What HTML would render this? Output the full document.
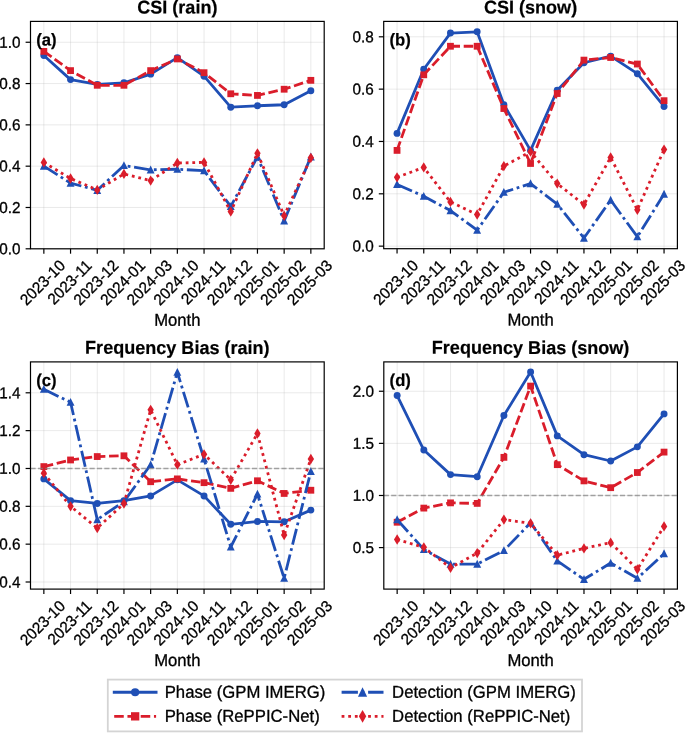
<!DOCTYPE html>
<html lang="en"><head><meta charset="utf-8"><title>CSI and Frequency Bias by Month</title>
<style>html,body{margin:0;padding:0;background:#fff}svg{display:block}text{font-family:"Liberation Sans", Arial, Helvetica, sans-serif;text-rendering:geometricPrecision;stroke:#000;stroke-linejoin:round}</style>
</head><body>
<svg width="685" height="733" viewBox="0 0 685 733" font-family='"Liberation Sans", Arial, Helvetica, sans-serif'>
<rect width="685" height="733" fill="#fff"/>
<clipPath id="clipa"><rect x="30.5" y="21.4" width="293.70" height="227.40"/></clipPath>
<g stroke="#b0b0b0" stroke-opacity="0.27" stroke-width="1.0" fill="none">
<path d="M43.85 21.4V248.8"/>
<path d="M70.55 21.4V248.8"/>
<path d="M97.25 21.4V248.8"/>
<path d="M123.95 21.4V248.8"/>
<path d="M150.65 21.4V248.8"/>
<path d="M177.35 21.4V248.8"/>
<path d="M204.05 21.4V248.8"/>
<path d="M230.75 21.4V248.8"/>
<path d="M257.45 21.4V248.8"/>
<path d="M284.15 21.4V248.8"/>
<path d="M310.85 21.4V248.8"/>
<path d="M30.5 248.80H324.2"/>
<path d="M30.5 207.49H324.2"/>
<path d="M30.5 166.18H324.2"/>
<path d="M30.5 124.87H324.2"/>
<path d="M30.5 83.56H324.2"/>
<path d="M30.5 42.25H324.2"/>
</g>
<g clip-path="url(#clipa)">
<path d="M43.85 55.54L70.55 79.61L97.25 84.47L123.95 82.82L150.65 74.14L177.35 57.60L204.05 76.21L230.75 107.21L257.45 105.76L284.15 104.73L310.85 90.67" stroke="#1f4fb5" stroke-width="2.8" fill="none" stroke-linejoin="round"/>
<circle cx="43.85" cy="55.54" r="3.47" fill="#1f4fb5"/>
<circle cx="70.55" cy="79.61" r="3.47" fill="#1f4fb5"/>
<circle cx="97.25" cy="84.47" r="3.47" fill="#1f4fb5"/>
<circle cx="123.95" cy="82.82" r="3.47" fill="#1f4fb5"/>
<circle cx="150.65" cy="74.14" r="3.47" fill="#1f4fb5"/>
<circle cx="177.35" cy="57.60" r="3.47" fill="#1f4fb5"/>
<circle cx="204.05" cy="76.21" r="3.47" fill="#1f4fb5"/>
<circle cx="230.75" cy="107.21" r="3.47" fill="#1f4fb5"/>
<circle cx="257.45" cy="105.76" r="3.47" fill="#1f4fb5"/>
<circle cx="284.15" cy="104.73" r="3.47" fill="#1f4fb5"/>
<circle cx="310.85" cy="90.67" r="3.47" fill="#1f4fb5"/>
<path d="M43.85 51.40L70.55 70.62L97.25 85.29L123.95 85.29L150.65 70.62L177.35 58.94L204.05 72.69L230.75 93.78L257.45 95.43L284.15 89.23L310.85 80.34" stroke="#da1d2b" stroke-width="2.8" fill="none" stroke-linejoin="round" stroke-dasharray="9.55 3.70"/>
<rect x="40.45" y="48.00" width="6.80" height="6.80" fill="#da1d2b"/>
<rect x="67.15" y="67.22" width="6.80" height="6.80" fill="#da1d2b"/>
<rect x="93.85" y="81.89" width="6.80" height="6.80" fill="#da1d2b"/>
<rect x="120.55" y="81.89" width="6.80" height="6.80" fill="#da1d2b"/>
<rect x="147.25" y="67.22" width="6.80" height="6.80" fill="#da1d2b"/>
<rect x="173.95" y="55.54" width="6.80" height="6.80" fill="#da1d2b"/>
<rect x="200.65" y="69.29" width="6.80" height="6.80" fill="#da1d2b"/>
<rect x="227.35" y="90.38" width="6.80" height="6.80" fill="#da1d2b"/>
<rect x="254.05" y="92.03" width="6.80" height="6.80" fill="#da1d2b"/>
<rect x="280.75" y="85.83" width="6.80" height="6.80" fill="#da1d2b"/>
<rect x="307.45" y="76.94" width="6.80" height="6.80" fill="#da1d2b"/>
<path d="M43.85 166.12L70.55 183.07L97.25 190.30L123.95 165.50L150.65 169.84L177.35 169.22L204.05 170.67L230.75 206.43L257.45 156.82L284.15 220.90L310.85 156.82" stroke="#1f4fb5" stroke-width="2.8" fill="none" stroke-linejoin="round" stroke-dasharray="16.30 3.70 2.80 3.70"/>
<path d="M43.85 161.82L47.80 169.72L39.90 169.72Z" fill="#1f4fb5"/>
<path d="M70.55 178.77L74.50 186.67L66.60 186.67Z" fill="#1f4fb5"/>
<path d="M97.25 186.00L101.20 193.90L93.30 193.90Z" fill="#1f4fb5"/>
<path d="M123.95 161.20L127.90 169.10L120.00 169.10Z" fill="#1f4fb5"/>
<path d="M150.65 165.54L154.60 173.44L146.70 173.44Z" fill="#1f4fb5"/>
<path d="M177.35 164.92L181.30 172.82L173.40 172.82Z" fill="#1f4fb5"/>
<path d="M204.05 166.37L208.00 174.27L200.10 174.27Z" fill="#1f4fb5"/>
<path d="M230.75 202.13L234.70 210.03L226.80 210.03Z" fill="#1f4fb5"/>
<path d="M257.45 152.52L261.40 160.42L253.50 160.42Z" fill="#1f4fb5"/>
<path d="M284.15 216.60L288.10 224.50L280.20 224.50Z" fill="#1f4fb5"/>
<path d="M310.85 152.52L314.80 160.42L306.90 160.42Z" fill="#1f4fb5"/>
<path d="M43.85 162.40L70.55 178.52L97.25 189.89L123.95 173.97L150.65 180.59L177.35 163.02L204.05 162.40L230.75 211.59L257.45 153.30L284.15 215.73L310.85 157.85" stroke="#da1d2b" stroke-width="2.8" fill="none" stroke-linejoin="round" stroke-dasharray="2.80 3.83"/>
<path d="M43.85 157.25L47.05 162.40L43.85 167.55L40.65 162.40Z" fill="#da1d2b"/>
<path d="M70.55 173.37L73.75 178.52L70.55 183.67L67.35 178.52Z" fill="#da1d2b"/>
<path d="M97.25 184.74L100.45 189.89L97.25 195.04L94.05 189.89Z" fill="#da1d2b"/>
<path d="M123.95 168.82L127.15 173.97L123.95 179.12L120.75 173.97Z" fill="#da1d2b"/>
<path d="M150.65 175.44L153.85 180.59L150.65 185.74L147.45 180.59Z" fill="#da1d2b"/>
<path d="M177.35 157.87L180.55 163.02L177.35 168.17L174.15 163.02Z" fill="#da1d2b"/>
<path d="M204.05 157.25L207.25 162.40L204.05 167.55L200.85 162.40Z" fill="#da1d2b"/>
<path d="M230.75 206.44L233.95 211.59L230.75 216.74L227.55 211.59Z" fill="#da1d2b"/>
<path d="M257.45 148.15L260.65 153.30L257.45 158.45L254.25 153.30Z" fill="#da1d2b"/>
<path d="M284.15 210.58L287.35 215.73L284.15 220.88L280.95 215.73Z" fill="#da1d2b"/>
<path d="M310.85 152.70L314.05 157.85L310.85 163.00L307.65 157.85Z" fill="#da1d2b"/>
</g>
<g stroke="#000" stroke-width="1.2" fill="none">
<path d="M43.85 248.8v4.9"/>
<path d="M70.55 248.8v4.9"/>
<path d="M97.25 248.8v4.9"/>
<path d="M123.95 248.8v4.9"/>
<path d="M150.65 248.8v4.9"/>
<path d="M177.35 248.8v4.9"/>
<path d="M204.05 248.8v4.9"/>
<path d="M230.75 248.8v4.9"/>
<path d="M257.45 248.8v4.9"/>
<path d="M284.15 248.8v4.9"/>
<path d="M310.85 248.8v4.9"/>
<path d="M30.5 248.80h-4.9"/>
<path d="M30.5 207.49h-4.9"/>
<path d="M30.5 166.18h-4.9"/>
<path d="M30.5 124.87h-4.9"/>
<path d="M30.5 83.56h-4.9"/>
<path d="M30.5 42.25h-4.9"/>
<rect x="30.5" y="21.4" width="293.70" height="227.40" stroke-linejoin="miter"/>
</g>
<g fill="#000">
<text transform="translate(20.60,254.20) rotate(0.03) scale(1,1.03)" font-size="15.28" text-anchor="end" stroke-width="0.3">0.0</text>
<text transform="translate(20.60,212.89) rotate(0.03) scale(1,1.03)" font-size="15.28" text-anchor="end" stroke-width="0.3">0.2</text>
<text transform="translate(20.60,171.58) rotate(0.03) scale(1,1.03)" font-size="15.28" text-anchor="end" stroke-width="0.3">0.4</text>
<text transform="translate(20.60,130.27) rotate(0.03) scale(1,1.03)" font-size="15.28" text-anchor="end" stroke-width="0.3">0.6</text>
<text transform="translate(20.60,88.96) rotate(0.03) scale(1,1.03)" font-size="15.28" text-anchor="end" stroke-width="0.3">0.8</text>
<text transform="translate(20.60,47.65) rotate(0.03) scale(1,1.03)" font-size="15.28" text-anchor="end" stroke-width="0.3">1.0</text>
<text transform="translate(66.15,266.60) rotate(-45) scale(1,1.03)" font-size="15.28" text-anchor="end" stroke-width="0.3">2023-10</text>
<text transform="translate(92.85,266.60) rotate(-45) scale(1,1.03)" font-size="15.28" text-anchor="end" stroke-width="0.3">2023-11</text>
<text transform="translate(119.55,266.60) rotate(-45) scale(1,1.03)" font-size="15.28" text-anchor="end" stroke-width="0.3">2023-12</text>
<text transform="translate(146.25,266.60) rotate(-45) scale(1,1.03)" font-size="15.28" text-anchor="end" stroke-width="0.3">2024-01</text>
<text transform="translate(172.95,266.60) rotate(-45) scale(1,1.03)" font-size="15.28" text-anchor="end" stroke-width="0.3">2024-03</text>
<text transform="translate(199.65,266.60) rotate(-45) scale(1,1.03)" font-size="15.28" text-anchor="end" stroke-width="0.3">2024-10</text>
<text transform="translate(226.35,266.60) rotate(-45) scale(1,1.03)" font-size="15.28" text-anchor="end" stroke-width="0.3">2024-11</text>
<text transform="translate(253.05,266.60) rotate(-45) scale(1,1.03)" font-size="15.28" text-anchor="end" stroke-width="0.3">2024-12</text>
<text transform="translate(279.75,266.60) rotate(-45) scale(1,1.03)" font-size="15.28" text-anchor="end" stroke-width="0.3">2025-01</text>
<text transform="translate(306.45,266.60) rotate(-45) scale(1,1.03)" font-size="15.28" text-anchor="end" stroke-width="0.3">2025-02</text>
<text transform="translate(333.15,266.60) rotate(-45) scale(1,1.03)" font-size="15.28" text-anchor="end" stroke-width="0.3">2025-03</text>
</g>
<text transform="translate(177.35,325.70) rotate(0.03) scale(1,1.03)" font-size="16.67" text-anchor="middle" stroke-width="0.3">Month</text>
<text transform="translate(177.35,13.40) rotate(0.03) scale(1,1.03)" font-size="18.06" text-anchor="middle" font-weight="bold" stroke-width="0.2">CSI (rain)</text>
<text transform="translate(36.30,45.60) rotate(0.03) scale(1,1.03)" font-size="16.67" font-weight="bold" stroke-width="0.2">(a)</text>
<clipPath id="clipb"><rect x="383.7" y="21.4" width="293.70" height="227.30"/></clipPath>
<g stroke="#b0b0b0" stroke-opacity="0.27" stroke-width="1.0" fill="none">
<path d="M397.05 21.4V248.7"/>
<path d="M423.75 21.4V248.7"/>
<path d="M450.45 21.4V248.7"/>
<path d="M477.15 21.4V248.7"/>
<path d="M503.85 21.4V248.7"/>
<path d="M530.55 21.4V248.7"/>
<path d="M557.25 21.4V248.7"/>
<path d="M583.95 21.4V248.7"/>
<path d="M610.65 21.4V248.7"/>
<path d="M637.35 21.4V248.7"/>
<path d="M664.05 21.4V248.7"/>
<path d="M383.7 246.15H677.4"/>
<path d="M383.7 193.81H677.4"/>
<path d="M383.7 141.47H677.4"/>
<path d="M383.7 89.14H677.4"/>
<path d="M383.7 36.80H677.4"/>
</g>
<g clip-path="url(#clipb)">
<path d="M397.05 133.39L423.75 69.28L450.45 33.05L477.15 31.84L503.85 104.60L530.55 150.39L557.25 90.21L583.95 62.74L610.65 56.19L637.35 73.70L664.05 106.41" stroke="#1f4fb5" stroke-width="2.8" fill="none" stroke-linejoin="round"/>
<circle cx="397.05" cy="133.39" r="3.47" fill="#1f4fb5"/>
<circle cx="423.75" cy="69.28" r="3.47" fill="#1f4fb5"/>
<circle cx="450.45" cy="33.05" r="3.47" fill="#1f4fb5"/>
<circle cx="477.15" cy="31.84" r="3.47" fill="#1f4fb5"/>
<circle cx="503.85" cy="104.60" r="3.47" fill="#1f4fb5"/>
<circle cx="530.55" cy="150.39" r="3.47" fill="#1f4fb5"/>
<circle cx="557.25" cy="90.21" r="3.47" fill="#1f4fb5"/>
<circle cx="583.95" cy="62.74" r="3.47" fill="#1f4fb5"/>
<circle cx="610.65" cy="56.19" r="3.47" fill="#1f4fb5"/>
<circle cx="637.35" cy="73.70" r="3.47" fill="#1f4fb5"/>
<circle cx="664.05" cy="106.41" r="3.47" fill="#1f4fb5"/>
<path d="M397.05 150.39L423.75 74.81L450.45 46.25L477.15 46.25L503.85 108.53L530.55 163.48L557.25 93.53L583.95 60.12L610.65 57.50L637.35 64.04L664.05 100.68" stroke="#da1d2b" stroke-width="2.8" fill="none" stroke-linejoin="round" stroke-dasharray="9.55 3.70"/>
<rect x="393.65" y="146.99" width="6.80" height="6.80" fill="#da1d2b"/>
<rect x="420.35" y="71.41" width="6.80" height="6.80" fill="#da1d2b"/>
<rect x="447.05" y="42.85" width="6.80" height="6.80" fill="#da1d2b"/>
<rect x="473.75" y="42.85" width="6.80" height="6.80" fill="#da1d2b"/>
<rect x="500.45" y="105.13" width="6.80" height="6.80" fill="#da1d2b"/>
<rect x="527.15" y="160.08" width="6.80" height="6.80" fill="#da1d2b"/>
<rect x="553.85" y="90.13" width="6.80" height="6.80" fill="#da1d2b"/>
<rect x="580.55" y="56.72" width="6.80" height="6.80" fill="#da1d2b"/>
<rect x="607.25" y="54.10" width="6.80" height="6.80" fill="#da1d2b"/>
<rect x="633.95" y="60.64" width="6.80" height="6.80" fill="#da1d2b"/>
<rect x="660.65" y="97.28" width="6.80" height="6.80" fill="#da1d2b"/>
<path d="M397.05 184.41L423.75 196.18L450.45 210.58L477.15 230.20L503.85 192.26L530.55 183.62L557.25 204.03L583.95 238.05L610.65 200.11L637.35 236.74L664.05 194.09" stroke="#1f4fb5" stroke-width="2.8" fill="none" stroke-linejoin="round" stroke-dasharray="16.30 3.70 2.80 3.70"/>
<path d="M397.05 180.11L401.00 188.01L393.10 188.01Z" fill="#1f4fb5"/>
<path d="M423.75 191.88L427.70 199.78L419.80 199.78Z" fill="#1f4fb5"/>
<path d="M450.45 206.28L454.40 214.18L446.50 214.18Z" fill="#1f4fb5"/>
<path d="M477.15 225.90L481.10 233.80L473.20 233.80Z" fill="#1f4fb5"/>
<path d="M503.85 187.96L507.80 195.86L499.90 195.86Z" fill="#1f4fb5"/>
<path d="M530.55 179.32L534.50 187.22L526.60 187.22Z" fill="#1f4fb5"/>
<path d="M557.25 199.73L561.20 207.63L553.30 207.63Z" fill="#1f4fb5"/>
<path d="M583.95 233.75L587.90 241.65L580.00 241.65Z" fill="#1f4fb5"/>
<path d="M610.65 195.81L614.60 203.71L606.70 203.71Z" fill="#1f4fb5"/>
<path d="M637.35 232.44L641.30 240.34L633.40 240.34Z" fill="#1f4fb5"/>
<path d="M664.05 189.79L668.00 197.69L660.10 197.69Z" fill="#1f4fb5"/>
<path d="M397.05 177.34L423.75 167.40L450.45 201.94L477.15 214.50L503.85 166.09L530.55 151.70L557.25 183.62L583.95 204.56L610.65 157.46L637.35 209.79L664.05 149.61" stroke="#da1d2b" stroke-width="2.8" fill="none" stroke-linejoin="round" stroke-dasharray="2.80 3.83"/>
<path d="M397.05 172.19L400.25 177.34L397.05 182.49L393.85 177.34Z" fill="#da1d2b"/>
<path d="M423.75 162.25L426.95 167.40L423.75 172.55L420.55 167.40Z" fill="#da1d2b"/>
<path d="M450.45 196.79L453.65 201.94L450.45 207.09L447.25 201.94Z" fill="#da1d2b"/>
<path d="M477.15 209.35L480.35 214.50L477.15 219.65L473.95 214.50Z" fill="#da1d2b"/>
<path d="M503.85 160.94L507.05 166.09L503.85 171.24L500.65 166.09Z" fill="#da1d2b"/>
<path d="M530.55 146.55L533.75 151.70L530.55 156.85L527.35 151.70Z" fill="#da1d2b"/>
<path d="M557.25 178.47L560.45 183.62L557.25 188.77L554.05 183.62Z" fill="#da1d2b"/>
<path d="M583.95 199.41L587.15 204.56L583.95 209.71L580.75 204.56Z" fill="#da1d2b"/>
<path d="M610.65 152.31L613.85 157.46L610.65 162.61L607.45 157.46Z" fill="#da1d2b"/>
<path d="M637.35 204.64L640.55 209.79L637.35 214.94L634.15 209.79Z" fill="#da1d2b"/>
<path d="M664.05 144.46L667.25 149.61L664.05 154.76L660.85 149.61Z" fill="#da1d2b"/>
</g>
<g stroke="#000" stroke-width="1.2" fill="none">
<path d="M397.05 248.7v4.9"/>
<path d="M423.75 248.7v4.9"/>
<path d="M450.45 248.7v4.9"/>
<path d="M477.15 248.7v4.9"/>
<path d="M503.85 248.7v4.9"/>
<path d="M530.55 248.7v4.9"/>
<path d="M557.25 248.7v4.9"/>
<path d="M583.95 248.7v4.9"/>
<path d="M610.65 248.7v4.9"/>
<path d="M637.35 248.7v4.9"/>
<path d="M664.05 248.7v4.9"/>
<path d="M383.7 246.15h-4.9"/>
<path d="M383.7 193.81h-4.9"/>
<path d="M383.7 141.47h-4.9"/>
<path d="M383.7 89.14h-4.9"/>
<path d="M383.7 36.80h-4.9"/>
<rect x="383.7" y="21.4" width="293.70" height="227.30" stroke-linejoin="miter"/>
</g>
<g fill="#000">
<text transform="translate(373.80,251.55) rotate(0.03) scale(1,1.03)" font-size="15.28" text-anchor="end" stroke-width="0.3">0.0</text>
<text transform="translate(373.80,199.21) rotate(0.03) scale(1,1.03)" font-size="15.28" text-anchor="end" stroke-width="0.3">0.2</text>
<text transform="translate(373.80,146.88) rotate(0.03) scale(1,1.03)" font-size="15.28" text-anchor="end" stroke-width="0.3">0.4</text>
<text transform="translate(373.80,94.54) rotate(0.03) scale(1,1.03)" font-size="15.28" text-anchor="end" stroke-width="0.3">0.6</text>
<text transform="translate(373.80,42.20) rotate(0.03) scale(1,1.03)" font-size="15.28" text-anchor="end" stroke-width="0.3">0.8</text>
<text transform="translate(419.35,266.50) rotate(-45) scale(1,1.03)" font-size="15.28" text-anchor="end" stroke-width="0.3">2023-10</text>
<text transform="translate(446.05,266.50) rotate(-45) scale(1,1.03)" font-size="15.28" text-anchor="end" stroke-width="0.3">2023-11</text>
<text transform="translate(472.75,266.50) rotate(-45) scale(1,1.03)" font-size="15.28" text-anchor="end" stroke-width="0.3">2023-12</text>
<text transform="translate(499.45,266.50) rotate(-45) scale(1,1.03)" font-size="15.28" text-anchor="end" stroke-width="0.3">2024-01</text>
<text transform="translate(526.15,266.50) rotate(-45) scale(1,1.03)" font-size="15.28" text-anchor="end" stroke-width="0.3">2024-03</text>
<text transform="translate(552.85,266.50) rotate(-45) scale(1,1.03)" font-size="15.28" text-anchor="end" stroke-width="0.3">2024-10</text>
<text transform="translate(579.55,266.50) rotate(-45) scale(1,1.03)" font-size="15.28" text-anchor="end" stroke-width="0.3">2024-11</text>
<text transform="translate(606.25,266.50) rotate(-45) scale(1,1.03)" font-size="15.28" text-anchor="end" stroke-width="0.3">2024-12</text>
<text transform="translate(632.95,266.50) rotate(-45) scale(1,1.03)" font-size="15.28" text-anchor="end" stroke-width="0.3">2025-01</text>
<text transform="translate(659.65,266.50) rotate(-45) scale(1,1.03)" font-size="15.28" text-anchor="end" stroke-width="0.3">2025-02</text>
<text transform="translate(686.35,266.50) rotate(-45) scale(1,1.03)" font-size="15.28" text-anchor="end" stroke-width="0.3">2025-03</text>
</g>
<text transform="translate(530.55,325.60) rotate(0.03) scale(1,1.03)" font-size="16.67" text-anchor="middle" stroke-width="0.3">Month</text>
<text transform="translate(530.55,13.40) rotate(0.03) scale(1,1.03)" font-size="18.06" text-anchor="middle" font-weight="bold" stroke-width="0.2">CSI (snow)</text>
<text transform="translate(389.50,45.60) rotate(0.03) scale(1,1.03)" font-size="16.67" font-weight="bold" stroke-width="0.2">(b)</text>
<clipPath id="clipc"><rect x="30.5" y="361.9" width="293.70" height="227.20"/></clipPath>
<g stroke="#b0b0b0" stroke-opacity="0.27" stroke-width="1.0" fill="none">
<path d="M43.85 361.9V589.1"/>
<path d="M70.55 361.9V589.1"/>
<path d="M97.25 361.9V589.1"/>
<path d="M123.95 361.9V589.1"/>
<path d="M150.65 361.9V589.1"/>
<path d="M177.35 361.9V589.1"/>
<path d="M204.05 361.9V589.1"/>
<path d="M230.75 361.9V589.1"/>
<path d="M257.45 361.9V589.1"/>
<path d="M284.15 361.9V589.1"/>
<path d="M310.85 361.9V589.1"/>
<path d="M30.5 582.00H324.2"/>
<path d="M30.5 544.16H324.2"/>
<path d="M30.5 506.32H324.2"/>
<path d="M30.5 468.48H324.2"/>
<path d="M30.5 430.64H324.2"/>
<path d="M30.5 392.80H324.2"/>
</g>
<g clip-path="url(#clipc)">
<path d="M43.85 478.89L70.55 500.64L97.25 503.48L123.95 500.64L150.65 495.91L177.35 479.83L204.05 495.91L230.75 524.29L257.45 521.46L284.15 521.83L310.85 510.10" stroke="#1f4fb5" stroke-width="2.8" fill="none" stroke-linejoin="round"/>
<circle cx="43.85" cy="478.89" r="3.47" fill="#1f4fb5"/>
<circle cx="70.55" cy="500.64" r="3.47" fill="#1f4fb5"/>
<circle cx="97.25" cy="503.48" r="3.47" fill="#1f4fb5"/>
<circle cx="123.95" cy="500.64" r="3.47" fill="#1f4fb5"/>
<circle cx="150.65" cy="495.91" r="3.47" fill="#1f4fb5"/>
<circle cx="177.35" cy="479.83" r="3.47" fill="#1f4fb5"/>
<circle cx="204.05" cy="495.91" r="3.47" fill="#1f4fb5"/>
<circle cx="230.75" cy="524.29" r="3.47" fill="#1f4fb5"/>
<circle cx="257.45" cy="521.46" r="3.47" fill="#1f4fb5"/>
<circle cx="284.15" cy="521.83" r="3.47" fill="#1f4fb5"/>
<circle cx="310.85" cy="510.10" r="3.47" fill="#1f4fb5"/>
<path d="M43.85 466.59L70.55 459.97L97.25 456.56L123.95 455.80L150.65 481.72L177.35 478.89L204.05 482.67L230.75 488.35L257.45 480.78L284.15 493.45L310.85 490.24" stroke="#da1d2b" stroke-width="2.8" fill="none" stroke-linejoin="round" stroke-dasharray="9.55 3.70"/>
<rect x="40.45" y="463.19" width="6.80" height="6.80" fill="#da1d2b"/>
<rect x="67.15" y="456.57" width="6.80" height="6.80" fill="#da1d2b"/>
<rect x="93.85" y="453.16" width="6.80" height="6.80" fill="#da1d2b"/>
<rect x="120.55" y="452.40" width="6.80" height="6.80" fill="#da1d2b"/>
<rect x="147.25" y="478.32" width="6.80" height="6.80" fill="#da1d2b"/>
<rect x="173.95" y="475.49" width="6.80" height="6.80" fill="#da1d2b"/>
<rect x="200.65" y="479.27" width="6.80" height="6.80" fill="#da1d2b"/>
<rect x="227.35" y="484.95" width="6.80" height="6.80" fill="#da1d2b"/>
<rect x="254.05" y="477.38" width="6.80" height="6.80" fill="#da1d2b"/>
<rect x="280.75" y="490.05" width="6.80" height="6.80" fill="#da1d2b"/>
<rect x="307.45" y="486.84" width="6.80" height="6.80" fill="#da1d2b"/>
<path d="M43.85 389.26L70.55 402.26L97.25 519.56L123.95 501.59L150.65 464.70L177.35 372.23L204.05 459.02L230.75 547.00L257.45 494.02L284.15 578.22L310.85 471.32" stroke="#1f4fb5" stroke-width="2.8" fill="none" stroke-linejoin="round" stroke-dasharray="16.30 3.70 2.80 3.70"/>
<path d="M43.85 384.96L47.80 392.86L39.90 392.86Z" fill="#1f4fb5"/>
<path d="M70.55 397.96L74.50 405.86L66.60 405.86Z" fill="#1f4fb5"/>
<path d="M97.25 515.26L101.20 523.16L93.30 523.16Z" fill="#1f4fb5"/>
<path d="M123.95 497.29L127.90 505.19L120.00 505.19Z" fill="#1f4fb5"/>
<path d="M150.65 460.40L154.60 468.30L146.70 468.30Z" fill="#1f4fb5"/>
<path d="M177.35 367.93L181.30 375.83L173.40 375.83Z" fill="#1f4fb5"/>
<path d="M204.05 454.72L208.00 462.62L200.10 462.62Z" fill="#1f4fb5"/>
<path d="M230.75 542.70L234.70 550.60L226.80 550.60Z" fill="#1f4fb5"/>
<path d="M257.45 489.72L261.40 497.62L253.50 497.62Z" fill="#1f4fb5"/>
<path d="M284.15 573.92L288.10 581.82L280.20 581.82Z" fill="#1f4fb5"/>
<path d="M310.85 467.02L314.80 474.92L306.90 474.92Z" fill="#1f4fb5"/>
<path d="M43.85 473.21L70.55 506.32L97.25 528.08L123.95 503.48L150.65 409.83L177.35 464.70L204.05 454.29L230.75 479.83L257.45 433.48L284.15 535.08L310.85 459.02" stroke="#da1d2b" stroke-width="2.8" fill="none" stroke-linejoin="round" stroke-dasharray="2.80 3.83"/>
<path d="M43.85 468.06L47.05 473.21L43.85 478.36L40.65 473.21Z" fill="#da1d2b"/>
<path d="M70.55 501.17L73.75 506.32L70.55 511.47L67.35 506.32Z" fill="#da1d2b"/>
<path d="M97.25 522.93L100.45 528.08L97.25 533.23L94.05 528.08Z" fill="#da1d2b"/>
<path d="M123.95 498.33L127.15 503.48L123.95 508.63L120.75 503.48Z" fill="#da1d2b"/>
<path d="M150.65 404.68L153.85 409.83L150.65 414.98L147.45 409.83Z" fill="#da1d2b"/>
<path d="M177.35 459.55L180.55 464.70L177.35 469.85L174.15 464.70Z" fill="#da1d2b"/>
<path d="M204.05 449.14L207.25 454.29L204.05 459.44L200.85 454.29Z" fill="#da1d2b"/>
<path d="M230.75 474.68L233.95 479.83L230.75 484.98L227.55 479.83Z" fill="#da1d2b"/>
<path d="M257.45 428.33L260.65 433.48L257.45 438.63L254.25 433.48Z" fill="#da1d2b"/>
<path d="M284.15 529.93L287.35 535.08L284.15 540.23L280.95 535.08Z" fill="#da1d2b"/>
<path d="M310.85 453.87L314.05 459.02L310.85 464.17L307.65 459.02Z" fill="#da1d2b"/>
<path d="M30.5 468.48H324.2" stroke="#808080" stroke-opacity="0.7" stroke-width="1.4" stroke-dasharray="5.15 2.23" fill="none"/>
</g>
<g stroke="#000" stroke-width="1.2" fill="none">
<path d="M43.85 589.1v4.9"/>
<path d="M70.55 589.1v4.9"/>
<path d="M97.25 589.1v4.9"/>
<path d="M123.95 589.1v4.9"/>
<path d="M150.65 589.1v4.9"/>
<path d="M177.35 589.1v4.9"/>
<path d="M204.05 589.1v4.9"/>
<path d="M230.75 589.1v4.9"/>
<path d="M257.45 589.1v4.9"/>
<path d="M284.15 589.1v4.9"/>
<path d="M310.85 589.1v4.9"/>
<path d="M30.5 582.00h-4.9"/>
<path d="M30.5 544.16h-4.9"/>
<path d="M30.5 506.32h-4.9"/>
<path d="M30.5 468.48h-4.9"/>
<path d="M30.5 430.64h-4.9"/>
<path d="M30.5 392.80h-4.9"/>
<rect x="30.5" y="361.9" width="293.70" height="227.20" stroke-linejoin="miter"/>
</g>
<g fill="#000">
<text transform="translate(20.60,587.40) rotate(0.03) scale(1,1.03)" font-size="15.28" text-anchor="end" stroke-width="0.3">0.4</text>
<text transform="translate(20.60,549.56) rotate(0.03) scale(1,1.03)" font-size="15.28" text-anchor="end" stroke-width="0.3">0.6</text>
<text transform="translate(20.60,511.72) rotate(0.03) scale(1,1.03)" font-size="15.28" text-anchor="end" stroke-width="0.3">0.8</text>
<text transform="translate(20.60,473.88) rotate(0.03) scale(1,1.03)" font-size="15.28" text-anchor="end" stroke-width="0.3">1.0</text>
<text transform="translate(20.60,436.04) rotate(0.03) scale(1,1.03)" font-size="15.28" text-anchor="end" stroke-width="0.3">1.2</text>
<text transform="translate(20.60,398.20) rotate(0.03) scale(1,1.03)" font-size="15.28" text-anchor="end" stroke-width="0.3">1.4</text>
<text transform="translate(66.15,606.90) rotate(-45) scale(1,1.03)" font-size="15.28" text-anchor="end" stroke-width="0.3">2023-10</text>
<text transform="translate(92.85,606.90) rotate(-45) scale(1,1.03)" font-size="15.28" text-anchor="end" stroke-width="0.3">2023-11</text>
<text transform="translate(119.55,606.90) rotate(-45) scale(1,1.03)" font-size="15.28" text-anchor="end" stroke-width="0.3">2023-12</text>
<text transform="translate(146.25,606.90) rotate(-45) scale(1,1.03)" font-size="15.28" text-anchor="end" stroke-width="0.3">2024-01</text>
<text transform="translate(172.95,606.90) rotate(-45) scale(1,1.03)" font-size="15.28" text-anchor="end" stroke-width="0.3">2024-03</text>
<text transform="translate(199.65,606.90) rotate(-45) scale(1,1.03)" font-size="15.28" text-anchor="end" stroke-width="0.3">2024-10</text>
<text transform="translate(226.35,606.90) rotate(-45) scale(1,1.03)" font-size="15.28" text-anchor="end" stroke-width="0.3">2024-11</text>
<text transform="translate(253.05,606.90) rotate(-45) scale(1,1.03)" font-size="15.28" text-anchor="end" stroke-width="0.3">2024-12</text>
<text transform="translate(279.75,606.90) rotate(-45) scale(1,1.03)" font-size="15.28" text-anchor="end" stroke-width="0.3">2025-01</text>
<text transform="translate(306.45,606.90) rotate(-45) scale(1,1.03)" font-size="15.28" text-anchor="end" stroke-width="0.3">2025-02</text>
<text transform="translate(333.15,606.90) rotate(-45) scale(1,1.03)" font-size="15.28" text-anchor="end" stroke-width="0.3">2025-03</text>
</g>
<text transform="translate(177.35,666.00) rotate(0.03) scale(1,1.03)" font-size="16.67" text-anchor="middle" stroke-width="0.3">Month</text>
<text transform="translate(177.35,353.90) rotate(0.03) scale(1,1.03)" font-size="18.06" text-anchor="middle" font-weight="bold" stroke-width="0.2">Frequency Bias (rain)</text>
<text transform="translate(36.30,386.10) rotate(0.03) scale(1,1.03)" font-size="16.67" font-weight="bold" stroke-width="0.2">(c)</text>
<clipPath id="clipd"><rect x="383.8" y="361.9" width="293.60" height="227.20"/></clipPath>
<g stroke="#b0b0b0" stroke-opacity="0.27" stroke-width="1.0" fill="none">
<path d="M397.15 361.9V589.1"/>
<path d="M423.84 361.9V589.1"/>
<path d="M450.53 361.9V589.1"/>
<path d="M477.22 361.9V589.1"/>
<path d="M503.91 361.9V589.1"/>
<path d="M530.60 361.9V589.1"/>
<path d="M557.29 361.9V589.1"/>
<path d="M583.98 361.9V589.1"/>
<path d="M610.67 361.9V589.1"/>
<path d="M637.36 361.9V589.1"/>
<path d="M664.05 361.9V589.1"/>
<path d="M383.8 547.60H677.4"/>
<path d="M383.8 495.48H677.4"/>
<path d="M383.8 443.37H677.4"/>
<path d="M383.8 391.25H677.4"/>
</g>
<g clip-path="url(#clipd)">
<path d="M397.15 395.58L423.84 450.01L450.53 474.61L477.22 476.70L503.91 415.47L530.60 372.03L557.29 435.88L583.98 454.72L610.67 461.00L637.36 446.87L664.05 413.90" stroke="#1f4fb5" stroke-width="2.8" fill="none" stroke-linejoin="round"/>
<circle cx="397.15" cy="395.58" r="3.47" fill="#1f4fb5"/>
<circle cx="423.84" cy="450.01" r="3.47" fill="#1f4fb5"/>
<circle cx="450.53" cy="474.61" r="3.47" fill="#1f4fb5"/>
<circle cx="477.22" cy="476.70" r="3.47" fill="#1f4fb5"/>
<circle cx="503.91" cy="415.47" r="3.47" fill="#1f4fb5"/>
<circle cx="530.60" cy="372.03" r="3.47" fill="#1f4fb5"/>
<circle cx="557.29" cy="435.88" r="3.47" fill="#1f4fb5"/>
<circle cx="583.98" cy="454.72" r="3.47" fill="#1f4fb5"/>
<circle cx="610.67" cy="461.00" r="3.47" fill="#1f4fb5"/>
<circle cx="637.36" cy="446.87" r="3.47" fill="#1f4fb5"/>
<circle cx="664.05" cy="413.90" r="3.47" fill="#1f4fb5"/>
<path d="M397.15 522.24L423.84 508.10L450.53 502.87L477.22 503.39L503.91 457.34L530.60 386.08L557.29 464.66L583.98 480.89L610.67 487.69L637.36 472.52L664.05 452.10" stroke="#da1d2b" stroke-width="2.8" fill="none" stroke-linejoin="round" stroke-dasharray="9.55 3.70"/>
<rect x="393.75" y="518.84" width="6.80" height="6.80" fill="#da1d2b"/>
<rect x="420.44" y="504.70" width="6.80" height="6.80" fill="#da1d2b"/>
<rect x="447.13" y="499.47" width="6.80" height="6.80" fill="#da1d2b"/>
<rect x="473.82" y="499.99" width="6.80" height="6.80" fill="#da1d2b"/>
<rect x="500.51" y="453.94" width="6.80" height="6.80" fill="#da1d2b"/>
<rect x="527.20" y="382.68" width="6.80" height="6.80" fill="#da1d2b"/>
<rect x="553.89" y="461.26" width="6.80" height="6.80" fill="#da1d2b"/>
<rect x="580.58" y="477.49" width="6.80" height="6.80" fill="#da1d2b"/>
<rect x="607.27" y="484.29" width="6.80" height="6.80" fill="#da1d2b"/>
<rect x="633.96" y="469.12" width="6.80" height="6.80" fill="#da1d2b"/>
<rect x="660.65" y="448.70" width="6.80" height="6.80" fill="#da1d2b"/>
<path d="M397.15 519.62L423.84 549.45L450.53 564.10L477.22 564.10L503.91 550.50L530.60 522.76L557.29 560.96L583.98 579.28L610.67 563.06L637.36 578.24L664.05 553.64" stroke="#1f4fb5" stroke-width="2.8" fill="none" stroke-linejoin="round" stroke-dasharray="16.30 3.70 2.80 3.70"/>
<path d="M397.15 515.32L401.10 523.22L393.20 523.22Z" fill="#1f4fb5"/>
<path d="M423.84 545.15L427.79 553.05L419.89 553.05Z" fill="#1f4fb5"/>
<path d="M450.53 559.80L454.48 567.70L446.58 567.70Z" fill="#1f4fb5"/>
<path d="M477.22 559.80L481.17 567.70L473.27 567.70Z" fill="#1f4fb5"/>
<path d="M503.91 546.20L507.86 554.10L499.96 554.10Z" fill="#1f4fb5"/>
<path d="M530.60 518.46L534.55 526.36L526.65 526.36Z" fill="#1f4fb5"/>
<path d="M557.29 556.66L561.24 564.56L553.34 564.56Z" fill="#1f4fb5"/>
<path d="M583.98 574.98L587.93 582.88L580.03 582.88Z" fill="#1f4fb5"/>
<path d="M610.67 558.76L614.62 566.66L606.72 566.66Z" fill="#1f4fb5"/>
<path d="M637.36 573.94L641.31 581.84L633.41 581.84Z" fill="#1f4fb5"/>
<path d="M664.05 549.34L668.00 557.24L660.10 557.24Z" fill="#1f4fb5"/>
<path d="M397.15 539.51L423.84 547.36L450.53 567.77L477.22 553.11L503.91 519.62L530.60 523.28L557.29 555.21L583.98 548.40L610.67 542.65L637.36 569.34L664.05 526.42" stroke="#da1d2b" stroke-width="2.8" fill="none" stroke-linejoin="round" stroke-dasharray="2.80 3.83"/>
<path d="M397.15 534.36L400.35 539.51L397.15 544.66L393.95 539.51Z" fill="#da1d2b"/>
<path d="M423.84 542.21L427.04 547.36L423.84 552.51L420.64 547.36Z" fill="#da1d2b"/>
<path d="M450.53 562.62L453.73 567.77L450.53 572.92L447.33 567.77Z" fill="#da1d2b"/>
<path d="M477.22 547.96L480.42 553.11L477.22 558.26L474.02 553.11Z" fill="#da1d2b"/>
<path d="M503.91 514.47L507.11 519.62L503.91 524.77L500.71 519.62Z" fill="#da1d2b"/>
<path d="M530.60 518.13L533.80 523.28L530.60 528.43L527.40 523.28Z" fill="#da1d2b"/>
<path d="M557.29 550.06L560.49 555.21L557.29 560.36L554.09 555.21Z" fill="#da1d2b"/>
<path d="M583.98 543.25L587.18 548.40L583.98 553.55L580.78 548.40Z" fill="#da1d2b"/>
<path d="M610.67 537.50L613.87 542.65L610.67 547.80L607.47 542.65Z" fill="#da1d2b"/>
<path d="M637.36 564.19L640.56 569.34L637.36 574.49L634.16 569.34Z" fill="#da1d2b"/>
<path d="M664.05 521.27L667.25 526.42L664.05 531.57L660.85 526.42Z" fill="#da1d2b"/>
<path d="M383.8 495.48H677.4" stroke="#808080" stroke-opacity="0.7" stroke-width="1.4" stroke-dasharray="5.15 2.23" fill="none"/>
</g>
<g stroke="#000" stroke-width="1.2" fill="none">
<path d="M397.15 589.1v4.9"/>
<path d="M423.84 589.1v4.9"/>
<path d="M450.53 589.1v4.9"/>
<path d="M477.22 589.1v4.9"/>
<path d="M503.91 589.1v4.9"/>
<path d="M530.60 589.1v4.9"/>
<path d="M557.29 589.1v4.9"/>
<path d="M583.98 589.1v4.9"/>
<path d="M610.67 589.1v4.9"/>
<path d="M637.36 589.1v4.9"/>
<path d="M664.05 589.1v4.9"/>
<path d="M383.8 547.60h-4.9"/>
<path d="M383.8 495.48h-4.9"/>
<path d="M383.8 443.37h-4.9"/>
<path d="M383.8 391.25h-4.9"/>
<rect x="383.8" y="361.9" width="293.60" height="227.20" stroke-linejoin="miter"/>
</g>
<g fill="#000">
<text transform="translate(373.90,553.00) rotate(0.03) scale(1,1.03)" font-size="15.28" text-anchor="end" stroke-width="0.3">0.5</text>
<text transform="translate(373.90,500.88) rotate(0.03) scale(1,1.03)" font-size="15.28" text-anchor="end" stroke-width="0.3">1.0</text>
<text transform="translate(373.90,448.77) rotate(0.03) scale(1,1.03)" font-size="15.28" text-anchor="end" stroke-width="0.3">1.5</text>
<text transform="translate(373.90,396.65) rotate(0.03) scale(1,1.03)" font-size="15.28" text-anchor="end" stroke-width="0.3">2.0</text>
<text transform="translate(419.45,606.90) rotate(-45) scale(1,1.03)" font-size="15.28" text-anchor="end" stroke-width="0.3">2023-10</text>
<text transform="translate(446.14,606.90) rotate(-45) scale(1,1.03)" font-size="15.28" text-anchor="end" stroke-width="0.3">2023-11</text>
<text transform="translate(472.83,606.90) rotate(-45) scale(1,1.03)" font-size="15.28" text-anchor="end" stroke-width="0.3">2023-12</text>
<text transform="translate(499.52,606.90) rotate(-45) scale(1,1.03)" font-size="15.28" text-anchor="end" stroke-width="0.3">2024-01</text>
<text transform="translate(526.21,606.90) rotate(-45) scale(1,1.03)" font-size="15.28" text-anchor="end" stroke-width="0.3">2024-03</text>
<text transform="translate(552.90,606.90) rotate(-45) scale(1,1.03)" font-size="15.28" text-anchor="end" stroke-width="0.3">2024-10</text>
<text transform="translate(579.59,606.90) rotate(-45) scale(1,1.03)" font-size="15.28" text-anchor="end" stroke-width="0.3">2024-11</text>
<text transform="translate(606.28,606.90) rotate(-45) scale(1,1.03)" font-size="15.28" text-anchor="end" stroke-width="0.3">2024-12</text>
<text transform="translate(632.97,606.90) rotate(-45) scale(1,1.03)" font-size="15.28" text-anchor="end" stroke-width="0.3">2025-01</text>
<text transform="translate(659.66,606.90) rotate(-45) scale(1,1.03)" font-size="15.28" text-anchor="end" stroke-width="0.3">2025-02</text>
<text transform="translate(686.35,606.90) rotate(-45) scale(1,1.03)" font-size="15.28" text-anchor="end" stroke-width="0.3">2025-03</text>
</g>
<text transform="translate(530.60,666.00) rotate(0.03) scale(1,1.03)" font-size="16.67" text-anchor="middle" stroke-width="0.3">Month</text>
<text transform="translate(530.60,353.90) rotate(0.03) scale(1,1.03)" font-size="18.06" text-anchor="middle" font-weight="bold" stroke-width="0.2">Frequency Bias (snow)</text>
<text transform="translate(389.60,386.10) rotate(0.03) scale(1,1.03)" font-size="16.67" font-weight="bold" stroke-width="0.2">(d)</text>
<rect x="107.8" y="679.6" width="474.20" height="51.80" fill="#fff" stroke="#d4d4d4" stroke-width="1.8"/>
<path d="M114.2 692.25h41.9" stroke="#1f4fb5" stroke-width="2.8" fill="none" stroke-linecap="square"/>
<circle cx="135.15" cy="692.25" r="4.12" fill="#1f4fb5"/>
<text transform="translate(164.70,697.70) rotate(0.03) scale(1,1.03)" font-size="16.72" stroke-width="0.3">Phase (GPM IMERG)</text>
<path d="M114.2 716.35h41.9" stroke="#da1d2b" stroke-width="2.8" fill="none" stroke-dasharray="9.55 3.70"/>
<rect x="131.00" y="712.20" width="8.30" height="8.30" fill="#da1d2b"/>
<text transform="translate(164.70,721.80) rotate(0.03) scale(1,1.03)" font-size="16.72" stroke-width="0.3">Phase (RePPIC-Net)</text>
<path d="M341.6 692.25h41.9" stroke="#1f4fb5" stroke-width="2.8" fill="none" stroke-dasharray="16.30 3.70 2.80 3.70"/>
<path d="M362.55 687.20L367.15 696.65L357.95 696.65Z" fill="#1f4fb5"/>
<text transform="translate(392.10,697.70) rotate(0.03) scale(1,1.03)" font-size="16.72" stroke-width="0.3">Detection (GPM IMERG)</text>
<path d="M341.6 716.35h41.9" stroke="#da1d2b" stroke-width="2.8" fill="none" stroke-dasharray="2.80 3.83"/>
<path d="M362.55 710.05L366.25 716.35L362.55 722.65L358.85 716.35Z" fill="#da1d2b"/>
<text transform="translate(392.10,721.80) rotate(0.03) scale(1,1.03)" font-size="16.72" stroke-width="0.3">Detection (RePPIC-Net)</text>
</svg>
</body></html>
